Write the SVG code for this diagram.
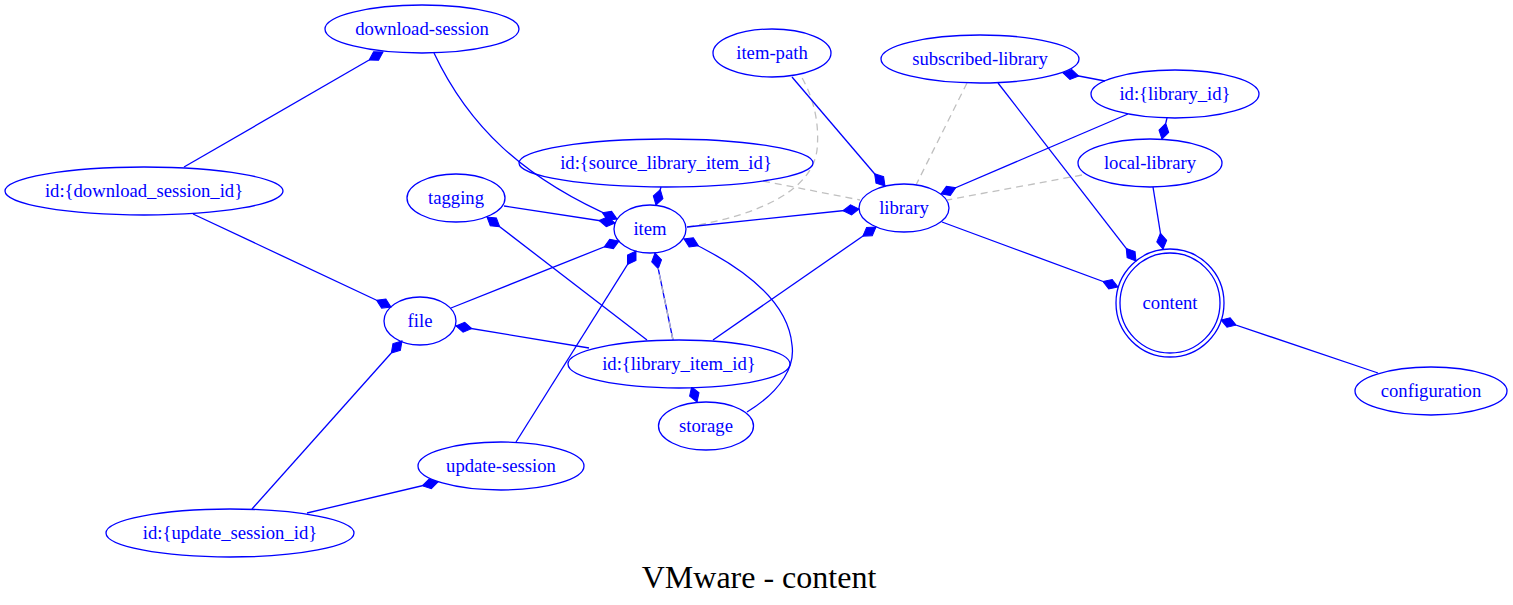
<svg xmlns="http://www.w3.org/2000/svg" width="1513" height="605" viewBox="0 0 1513 605">
<style>
.n ellipse, .n circle { fill: none; stroke: #0000ff; stroke-width: 1.3; }
.n text { font-family: "Liberation Serif", "Times New Roman", serif; font-size: 18.67px; fill: #0000ff; text-anchor: middle; }
.e { fill: none; stroke: #0000ff; stroke-width: 1.3; marker-end: url(#dia); }
.d { fill: none; stroke: #c0c0c0; stroke-width: 1.3; stroke-dasharray: 7,5; }
.title { font-family: "Liberation Serif", "Times New Roman", serif; font-size: 32px; fill: #000000; text-anchor: middle; }
</style>
<defs>
<marker id="dia" markerUnits="userSpaceOnUse" markerWidth="18" markerHeight="12" viewBox="0 -6 18 12" refX="16" refY="0" orient="auto">
<path d="M0,0 L8,-5 L16,0 L8,5 Z" fill="#0000ff" stroke="#0000ff" stroke-width="1"/>
</marker>
</defs>
<rect width="1513" height="605" fill="#ffffff"/>

<g id="connectors">
<path class="d" d="M967,83 L916,185"/>
<path class="d" d="M1082,175 L947,200"/>
<path class="d" d="M763,181 L860,200"/>
<path class="d" d="M687,227 C760,215 812,190 817,150 C820,120 812,95 801,76"/>

<path class="e" d="M184,167 L383,52"/>
<path class="e" d="M193,214 L391,307"/>
<path class="e" d="M434,53 C468,125 522,178 617,219"/>
<path class="e" d="M504,206 L615,223"/>
<path class="e" d="M647,340 L487,217"/>
<path class="e" d="M451,308 L619,241"/>
<path class="e" d="M589,348 L456,326"/>
<path class="e" d="M252,509 L402,341"/>
<path class="e" d="M307,513 L438,482"/>
<path class="e" d="M516,442 L636,251"/>
<path class="e" d="M673,340 L655,253"/>
<path class="d" d="M673,340 L658,268"/>
<path class="e" d="M747,412 C783,390 795,365 792,345 C788,300 740,265 684,239"/>
<path class="e" d="M692,388 L697,402"/>
<path class="e" d="M661,187 L656,205"/>
<path class="e" d="M687,227 L859,209"/>
<path class="e" d="M713,340 L876,227"/>
<path class="e" d="M792,77 L885,186"/>
<path class="e" d="M1128,114 L941,194"/>
<path class="e" d="M1105,81 L1063,73"/>
<path class="e" d="M1167,118 L1162,139"/>
<path class="e" d="M998,83 L1136,261"/>
<path class="e" d="M1153,187 L1163,249"/>
<path class="e" d="M942,222 L1118,287"/>
<path class="e" d="M1378,373 L1221,320"/>
</g>

<g id="download-session" class="n"><ellipse cx="422" cy="29" rx="97" ry="24"/><text x="422" y="35">download-session</text></g>
<g id="download_session_id" class="n"><ellipse cx="144" cy="191" rx="139" ry="24"/><text x="144" y="197">id:{download_session_id}</text></g>
<g id="tagging" class="n"><ellipse cx="456" cy="198" rx="49" ry="24"/><text x="456" y="204">tagging</text></g>
<g id="source_library_item_id" class="n"><ellipse cx="666" cy="163" rx="147" ry="24"/><text x="666" y="169">id:{source_library_item_id}</text></g>
<g id="item" class="n"><ellipse cx="650" cy="229" rx="36" ry="24"/><text x="650" y="235">item</text></g>
<g id="file" class="n"><ellipse cx="420" cy="321" rx="36" ry="24"/><text x="420" y="327">file</text></g>
<g id="library_item_id" class="n"><ellipse cx="679" cy="364" rx="111" ry="24"/><text x="679" y="370">id:{library_item_id}</text></g>
<g id="storage" class="n"><ellipse cx="706" cy="426" rx="47.5" ry="24"/><text x="706" y="432">storage</text></g>
<g id="update-session" class="n"><ellipse cx="501" cy="466" rx="83" ry="24"/><text x="501" y="472">update-session</text></g>
<g id="update_session_id" class="n"><ellipse cx="230" cy="533" rx="124" ry="24"/><text x="230" y="539">id:{update_session_id}</text></g>
<g id="item-path" class="n"><ellipse cx="772" cy="53" rx="59" ry="24"/><text x="772" y="59">item-path</text></g>
<g id="library" class="n"><ellipse cx="904" cy="208" rx="45" ry="24"/><text x="904" y="214">library</text></g>
<g id="subscribed-library" class="n"><ellipse cx="980" cy="59" rx="99" ry="24"/><text x="980" y="65">subscribed-library</text></g>
<g id="library_id" class="n"><ellipse cx="1175" cy="94" rx="84" ry="24"/><text x="1175" y="100">id:{library_id}</text></g>
<g id="local-library" class="n"><ellipse cx="1150" cy="163" rx="72" ry="24"/><text x="1150" y="169">local-library</text></g>
<g id="content" class="n"><circle cx="1170" cy="303" r="54"/><circle cx="1170" cy="303" r="50"/><text x="1170" y="309">content</text></g>
<g id="configuration" class="n"><ellipse cx="1431" cy="391" rx="76" ry="24"/><text x="1431" y="397">configuration</text></g>

<text class="title" x="759" y="588">VMware - content</text>
</svg>
